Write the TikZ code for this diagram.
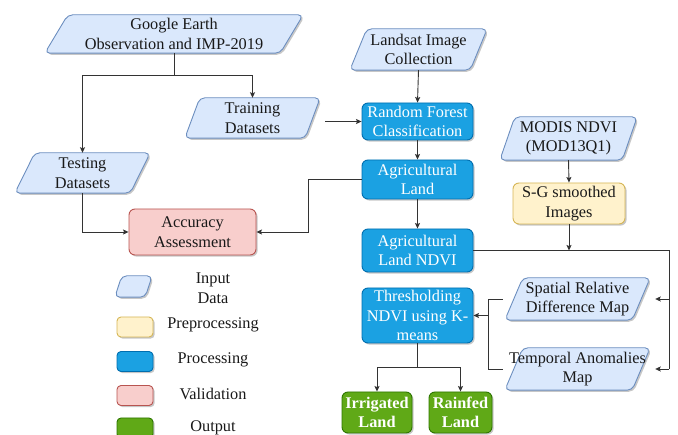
\documentclass[tikz,border=0pt]{standalone}
\usepackage{fontspec}
\setmainfont{Liberation Serif}
\usetikzlibrary{arrows.meta,backgrounds,shadows,calc}
\definecolor{inF}{HTML}{DAE8FC}\definecolor{inD}{HTML}{6C8EBF}
\definecolor{preF}{HTML}{FFF2CC}\definecolor{preD}{HTML}{D6B656}
\definecolor{procF}{HTML}{1BA1E2}\definecolor{procD}{HTML}{006EAF}
\definecolor{valF}{HTML}{F8CECC}\definecolor{valD}{HTML}{B85450}
\definecolor{outF}{HTML}{60A917}\definecolor{outD}{HTML}{2D7600}
\definecolor{lineC}{HTML}{333333}
\tikzset{
  base/.style={align=center, font=\fontsize{16.3}{19.5}\selectfont, inner sep=0pt, text=black!90},
  shad/.style={drop shadow={shadow xshift=1.6pt, shadow yshift=-1.6pt, opacity=0.22, fill=black}},
  box/.style={base, draw, rounded corners=6pt, line width=0.9pt, shad},
  procbox/.style={box, fill=procF, draw=procD, text=white},
  prebox/.style={box, fill=preF, draw=preD},
  valbox/.style={box, fill=valF, draw=valD},
  outbox/.style={box, fill=outF, draw=outD, text=white, font=\fontsize{16.3}{19.5}\selectfont\bfseries},
  parashape/.style={draw=inD, fill=inF, line width=0.9pt, rounded corners=5pt, shad},
  arr/.style={-{Stealth[length=5.5pt,width=5pt,inset=1pt]}, line width=0.9pt, draw=lineC},
  conn/.style={line width=0.9pt, draw=lineC},
}
% name, position, width, height, slant, text
\newcommand\inputnode[6]{%
  \node[base, minimum width=#3pt, minimum height=#4pt] (#1) at (#2) {#6};
  \begin{scope}[on background layer]
    \path[parashape] ([xshift=#5pt]#1.north west) -- (#1.north east)
      -- ([xshift=-#5pt]#1.south east) -- (#1.south west) -- cycle;
  \end{scope}}
\begin{document}
\begin{tikzpicture}[x=1pt,y=-1pt]
\useasboundingbox (0,0) rectangle (678,435);
% input nodes
\inputnode{ge}{174,34}{258}{38}{23}{Google Earth\\Observation and IMP-2019}
\inputnode{train}{252.5,118}{135}{40}{15}{Training\\Datasets}
\inputnode{test}{82.5,173}{135}{40}{20}{Testing\\Datasets}
\inputnode{land}{418.5,49.5}{137}{41}{17}{Landsat Image\\Collection}
\inputnode{modis}{568.5,138.5}{137}{43}{15}{MODIS NDVI\\(MOD13Q1)}
\inputnode{spat}{577.5,299}{145}{42}{18}{Spatial Relative\\Difference Map}
\inputnode{temp}{577.5,369}{145}{42}{18}{Temporal Anomalies\\Map}
% processing
\node[procbox, minimum width=111pt, minimum height=37pt] (rf) at (417.5,121.5) {Random Forest\\Classification};
\node[procbox, minimum width=111pt, minimum height=39pt] (ag) at (417.5,179.5) {Agricultural\\Land};
\node[procbox, minimum width=111pt, minimum height=43pt] (agn) at (417.5,250.5) {Agricultural\\Land NDVI};
\node[procbox, minimum width=111pt, minimum height=55pt] (thr) at (417.5,315.5) {Thresholding\\NDVI using K-\\means};
\node[prebox, minimum width=112pt, minimum height=41pt] (sg) at (569,203.5) {S-G smoothed\\Images};
\node[valbox, minimum width=127pt, minimum height=46pt] (acc) at (192.5,232) {Accuracy\\Assessment};
\node[outbox, minimum width=70pt, minimum height=41pt] (irr) at (377,412.5) {Irrigated\\Land};
\node[outbox, minimum width=63pt, minimum height=41pt] (rain) at (460.5,412.5) {Rainfed\\Land};
% legend
\inputnode{lin}{133.5,286.5}{37}{21}{7}{}
\node[prebox, minimum width=36pt, minimum height=20pt, rounded corners=4pt] (lpre) at (135,327) {};
\node[procbox, minimum width=36pt, minimum height=20pt, rounded corners=4pt] (lproc) at (135,361.5) {};
\node[valbox, minimum width=36pt, minimum height=20pt, rounded corners=4pt] (lval) at (135,395.5) {};
\node[outbox, minimum width=36pt, minimum height=20pt, rounded corners=4pt] (lout) at (135,428) {};
\node[base] (tin) at (213,288) {Input\\Data};
\node[base] (tpre) at (213,325) {Preprocessing};
\node[base] (tproc) at (213,360) {Processing};
\node[base] (tval) at (213,394) {Validation};
\node[base] (tout) at (213,428) {Output};
% connectors
\coordinate (s1) at (174,75);
\draw[conn] (ge.south) -- (s1);
\draw[arr] (s1) -| (train.north);
\draw[arr] (s1) -| (test.north);
\draw[arr] ([xshift=5pt]train.east |- rf.west) -- (rf.west);
\draw[arr] (land.south) -- (rf.north);
\draw[arr] (rf.south) -- (ag.north);
\draw[arr] (ag.south) -- (agn.north);
\draw[arr] (ag.west) -- ++(-53,0) |- (acc.east);
\draw[arr] (test.south) |- (acc.west);
\draw[arr] (modis.south) -- (sg.north);
\draw[arr] (sg.south) -- (sg.south |- agn.east);
\coordinate (rtop) at (669,250.5);
\coordinate (rbot) at (669,369);
\draw[conn] (agn.east) -- (rtop) -- (rbot);
\draw[arr] (rbot) -- ([xshift=5pt]temp.east);
\draw[arr] (rtop |- spat.east) -- ([xshift=5pt]spat.east);
\coordinate (lj) at (488,315.5);
\draw[conn] ([xshift=-2pt]spat.west) -- (spat.west -| lj) -- (temp.west -| lj) -- ([xshift=-2pt]temp.west);
\draw[arr] (lj |- thr.east) -- (thr.east);
\coordinate (s2) at (417.5,367);
\draw[conn] (thr.south) -- (s2);
\draw[arr] (s2) -| (irr.north);
\draw[arr] (s2) -| (rain.north);
\end{tikzpicture}
\end{document}
